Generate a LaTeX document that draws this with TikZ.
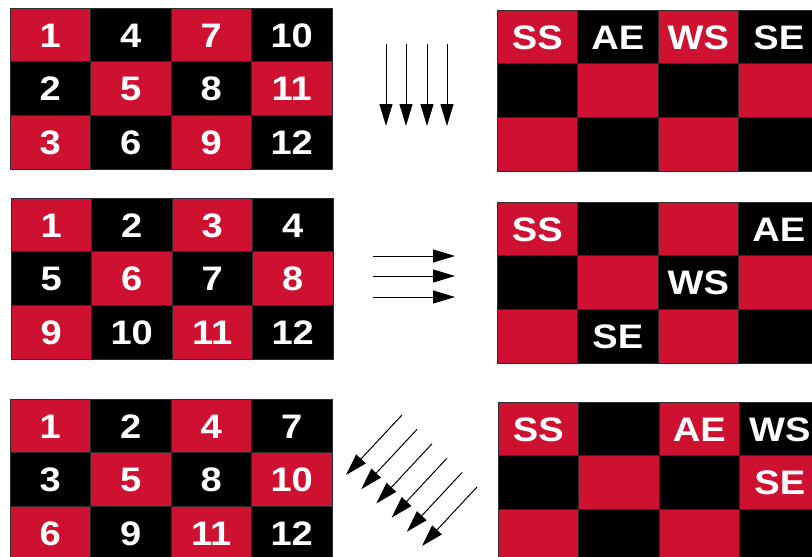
\documentclass[tikz,border=0pt]{standalone}
\usepackage{fontspec}
\setmainfont[FakeStretch=1.12]{Liberation Sans}
\usetikzlibrary{arrows.meta}

\definecolor{cellred}{RGB}{206,17,48}
\definecolor{cellline}{RGB}{45,45,45}

% one 4x3 checker grid: name, left, top, labels (row by row)
\newcommand{\cellgrid}[4]{%
  \foreach \lab [count=\i from 0] in {#4} {
    \pgfmathtruncatemacro{\gridrow}{\i/4}
    \pgfmathtruncatemacro{\gridcol}{mod(\i,4)}
    \pgfmathtruncatemacro{\gridodd}{mod(\gridrow+\gridcol,2)}
    \ifnum\gridodd=0 \def\cellfill{cellred}\else\def\cellfill{black}\fi
    \node[cell, fill=\cellfill] (#1-\i) at (#2+80.5*\gridcol+40.25, #3+53.7*\gridrow+26.85) {\lab};
  }%
}

\begin{document}
\begin{tikzpicture}[x=1pt, y=-1pt,
    cell/.style={minimum width=80.5pt, minimum height=53.7pt, inner sep=0pt, draw=cellline, line width=0.7pt,
      text=white, font=\fontsize{34}{34}\selectfont\bfseries, text height=24.3pt, text depth=0pt},
    flow/.style={-{Triangle[length=22pt, width=13pt]}, line width=1pt}]
  \clip (0,0) rectangle (812,557);

  % Left side: numbered grids
  \cellgrid{num-col}{10}{8}{1,4,7,10,2,5,8,11,3,6,9,12}
  \cellgrid{num-row}{11}{198}{1,2,3,4,5,6,7,8,9,10,11,12}
  \cellgrid{num-diag}{10}{399}{1,2,4,7,3,5,8,10,6,9,11,12}

  % Right side: labelled grids
  \cellgrid{lab-col}{497}{10}{SS,AE,WS,SE,{},{},{},{},{},{},{},{}}
  \cellgrid{lab-row}{497}{202}{SS,{},{},AE,{},{},WS,{},{},SE,{},{}}
  \cellgrid{lab-diag}{498}{402}{SS,{},AE,WS,{},{},{},SE,{},{},{},{}}

  % Middle: sweep directions
  \foreach \k [count=\i] in {386,406,427,447} {
    \coordinate (down-start-\i) at (\k,44);
    \coordinate (down-end-\i) at (\k,126);
    \draw[flow] (down-start-\i) -- (down-end-\i);
  }
  \foreach \k [count=\i] in {256,276,297} {
    \coordinate (right-start-\i) at (373,\k);
    \coordinate (right-end-\i) at (455,\k);
    \draw[flow] (right-start-\i) -- (right-end-\i);
  }
  \foreach \k [count=\i] in {0,...,5} {
    \coordinate (diag-start-\i) at (402+15*\k,415+14.4*\k);
    \coordinate (diag-end-\i) at (346+15.2*\k,475+14.2*\k);
    \draw[flow] (diag-start-\i) -- (diag-end-\i);
  }
\end{tikzpicture}
\end{document}
